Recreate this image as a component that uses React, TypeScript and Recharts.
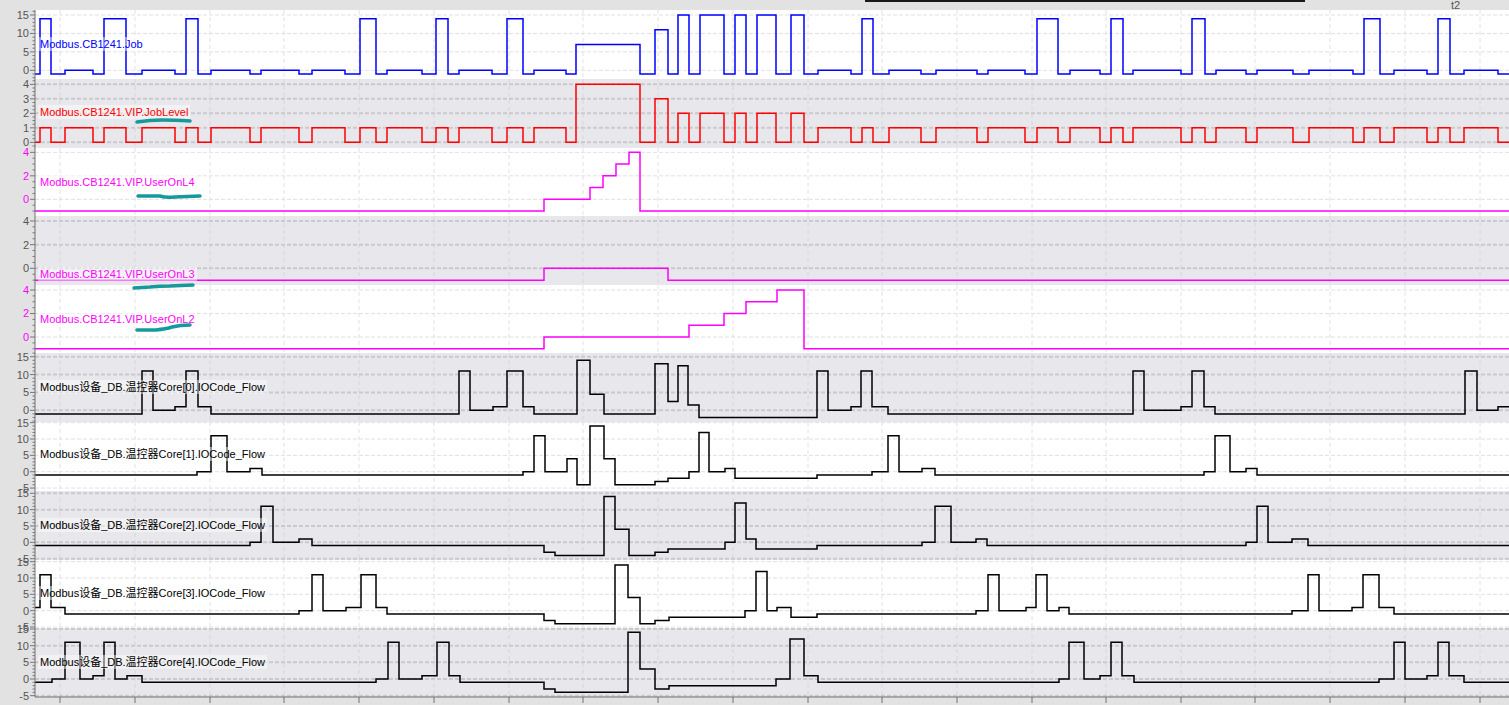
import React from "react";
import { LineChart, Line, XAxis, YAxis, CartesianGrid } from "recharts";

// time axis: one unit per screen pixel of the trace, 0 = left edge of the plot
const T_END = 1474;
const TIME_TICKS = [25, 100, 175, 249, 324, 399, 474, 548, 623, 698, 773, 847, 922, 997, 1071, 1146, 1220, 1295, 1370, 1445];

// Job and JobLevel change at the same moments
const JOB_T = [
  0, 5, 16, 30, 58, 69, 91, 107, 140, 151, 163, 176, 215, 226, 264, 277, 310, 325, 341, 352,
  387, 401, 413, 424, 457, 472, 488, 499, 531, 541, 605, 620, 633, 643, 654, 665, 689, 700, 711, 722,
  741, 756, 769, 783, 816, 827, 838, 854, 886, 901, 942, 953, 990, 1002, 1023, 1035, 1065, 1076, 1088, 1098,
  1146, 1157, 1170, 1181, 1211, 1222, 1258, 1274, 1318, 1329, 1345, 1359, 1392, 1403, 1415, 1429, 1463,
];
const JOB_VALUES = [
  -1, 14, -1, 0, -1, 14, -1, 0, -1, 14, -1, 0, -1, 0, -1, 0, -1, 14, -1, 0,
  -1, 14, -1, 0, -1, 14, -1, 0, -1, 7, -1, 11, -1, 15, -1, 15, -1, 15, -1, 15,
  -1, 15, -1, 0, -1, 14, -1, 0, -1, 0, -1, 0, -1, 14, -1, 0, -1, 14, -1, 0,
  -1, 14, -1, 0, -1, 0, -1, 0, -1, 14, -1, 0, -1, 14, -1, 0, -1,
];
const JOB_LEVEL_VALUES = [
  0, 1, 0, 1, 0, 1, 0, 1, 0, 1, 0, 1, 0, 1, 0, 1, 0, 1, 0, 1,
  0, 1, 0, 1, 0, 1, 0, 1, 0, 4, 0, 3, 0, 2, 0, 2, 0, 2, 0, 2,
  0, 2, 0, 1, 0, 1, 0, 1, 0, 1, 0, 1, 0, 1, 0, 1, 0, 1, 0, 1,
  0, 1, 0, 1, 0, 1, 0, 1, 0, 1, 0, 1, 0, 1, 0, 1, 0,
];

const L4_T = [0, 509, 555, 568, 581, 594, 605];
const L4_VALUES = [-1, 0, 1, 2, 3, 4, -1];
const L3_T = [0, 509, 633];
const L3_VALUES = [-1, 0, -1];
const L2_T = [0, 509, 654, 689, 711, 742, 769];
const L2_VALUES = [-1, 0, 1, 2, 3, 4, -1];

const CORE0_T = [0, 107, 118, 140, 151, 163, 176, 424, 435, 458, 472, 488, 499, 542, 555, 569, 620, 633, 643, 653, 664, 782, 793, 816, 826, 837, 853, 1098, 1109, 1146, 1157, 1169, 1180, 1430, 1442, 1463];
const CORE0_VALUES = [-1, 11, 0, 1, 11, 1, -1, 11, 0, 1, 11, 1, -1, 14, 4.5, -1, 13, 2.5, 12.5, 1.5, -2, 11, 0, 1, 11, 1, -1, 11, 0, 1, 11, 1, -1, 11, 0, 1];

const CORE1_T = [0, 162, 176, 192, 215, 227, 488, 499, 510, 532, 542, 555, 569, 580, 620, 633, 654, 664, 674, 690, 700, 782, 837, 853, 864, 887, 900, 1169, 1180, 1195, 1211, 1222];
const CORE1_VALUES = [-1, 0, 11, 0, 1, -1, 0, 11, 0, 4, -4, 14, 4, -4, -3, -2, 0, 12, 0, 1, -2, -1, 0, 11, 0, 1, -1, 0, 11, 0, 1, -1];

const CORE2_T = [0, 215, 226, 238, 264, 277, 509, 520, 569, 580, 594, 620, 633, 690, 700, 711, 721, 782, 887, 900, 916, 941, 952, 1211, 1222, 1233, 1257, 1273];
const CORE2_VALUES = [-1, 0, 11, 0, 1, -1, -3, -4, 14, 4, -4, -3, -2, 0, 12, 1, -2, -1, 0, 11, 0, 1, -1, 0, 11, 0, 1, -1];

const CORE3_T = [0, 5, 16, 30, 264, 277, 288, 311, 326, 341, 352, 509, 520, 580, 593, 605, 620, 634, 710, 721, 732, 742, 756, 782, 941, 953, 964, 991, 1001, 1012, 1024, 1034, 1257, 1273, 1284, 1317, 1328, 1344, 1359];
const CORE3_VALUES = [1, 11, 1, -1, 0, 11, 0, 1, 11, 1, -1, -3, -4, 14, 4, -4, -3, -2, 0, 12, 0, 1, -2, -1, 0, 11, 0, 1, 11, 0, 1, -1, 0, 11, 0, 1, 11, 1, -1];

const CORE4_T = [0, 17, 30, 45, 58, 69, 80, 92, 107, 341, 353, 364, 387, 402, 414, 425, 509, 520, 593, 605, 620, 634, 741, 755, 769, 783, 1024, 1034, 1049, 1065, 1076, 1087, 1099, 1344, 1359, 1370, 1392, 1403, 1414, 1429];
const CORE4_VALUES = [-1, 0, 11, 0, 1, 11, 0, 1, -1, 0, 11, 0, 1, 11, 1, -1, -3, -4, 14, 3, -3, -2, 0, 12, 1, -1, 0, 11, 0, 1, 11, 1, -1, 0, 11, 0, 1, 11, 1, -1];

const GRAY = "#e7e7ec";
const WHITE = "#ffffff";
const MAGENTA = "#ff00ff";

type Panel = {
  name: string;
  color: string;
  times: number[];
  values: number[];
  domain: [number, number];
  ticks: number[];
  minorStep: number;
  height: number;
  band: string;
  tickColor: string;
  labelY: number;
};

const PANELS: Panel[] = [
  { name: "Modbus.CB1241.Job", color: "#0000ff", times: JOB_T, values: JOB_VALUES, domain: [-2.36, 16.36], ticks: [0, 5, 10, 15], minorStep: 1, height: 69, band: WHITE, tickColor: "#555", labelY: 34 },
  { name: "Modbus.CB1241.VIP.JobLevel", color: "#ff0000", times: JOB_T, values: JOB_LEVEL_VALUES, domain: [-0.39, 4.37], ticks: [0, 1, 2, 3, 4], minorStep: 0.25, height: 69, band: GRAY, tickColor: "#555", labelY: 33 },
  { name: "Modbus.CB1241.VIP.UserOnL4", color: MAGENTA, times: L4_T, values: L4_VALUES, domain: [-1.42, 4.37], ticks: [0, 2, 4], minorStep: 0.5, height: 68, band: WHITE, tickColor: MAGENTA, labelY: 34 },
  { name: "Modbus.CB1241.VIP.UserOnL3", color: MAGENTA, times: L3_T, values: L3_VALUES, domain: [-1.41, 4.42], ticks: [0, 2, 4], minorStep: 0.5, height: 69, band: GRAY, tickColor: "#555", labelY: 58 },
  { name: "Modbus.CB1241.VIP.UserOnL2", color: MAGENTA, times: L2_T, values: L2_VALUES, domain: [-1.36, 4.43], ticks: [0, 2, 4], minorStep: 0.5, height: 68, band: WHITE, tickColor: MAGENTA, labelY: 34 },
  { name: "Modbus设备_DB.温控器Core[0].IOCode_Flow", color: "#000", times: CORE0_T, values: CORE0_VALUES, domain: [-3.27, 16.04], ticks: [0, 5, 10, 15], minorStep: 1, height: 69, band: GRAY, tickColor: "#555", labelY: 34 },
  { name: "Modbus设备_DB.温控器Core[1].IOCode_Flow", color: "#000", times: CORE1_T, values: CORE1_VALUES, domain: [-5.9, 15.2], ticks: [-5, 0, 5, 10, 15], minorStep: 1, height: 69, band: WHITE, tickColor: "#555", labelY: 32 },
  { name: "Modbus设备_DB.温控器Core[2].IOCode_Flow", color: "#000", times: CORE2_T, values: CORE2_VALUES, domain: [-5.4, 15.7], ticks: [-5, 0, 5, 10, 15], minorStep: 1, height: 69, band: GRAY, tickColor: "#555", labelY: 34 },
  { name: "Modbus设备_DB.温控器Core[3].IOCode_Flow", color: "#000", times: CORE3_T, values: CORE3_VALUES, domain: [-5.3, 15.5], ticks: [-5, 0, 5, 10, 15], minorStep: 1, height: 68, band: WHITE, tickColor: "#555", labelY: 33 },
  { name: "Modbus设备_DB.温控器Core[4].IOCode_Flow", color: "#000", times: CORE4_T, values: CORE4_VALUES, domain: [-5.4, 15.3], ticks: [-5, 0, 5, 10, 15], minorStep: 1, height: 69, band: GRAY, tickColor: "#555", labelY: 34 },
];

const FONT = "'Liberation Sans', Arial, 'Noto Sans CJK SC', sans-serif";
const TOP = 10;
const AXIS_H = 8;
const W = 1509;

function toSteps(times: number[], values: number[]) {
  const rows = times.map((t, i) => ({ t, v: values[i] }));
  rows.push({ t: T_END, v: values[values.length - 1] });
  return rows;
}

function allTicks(p: Panel) {
  const out: number[] = [];
  const start = Math.ceil(p.domain[0] / p.minorStep) * p.minorStep;
  for (let v = start; v <= p.domain[1]; v += p.minorStep) out.push(Math.round(v * 100) / 100);
  return out;
}

function AxisTick(props: any) {
  const { x, y, payload, major, color } = props;
  const isMajor = major.includes(payload.value);
  return (
    <g>
      <line x1={x - (isMajor ? 5 : 2.5)} x2={x} y1={y} y2={y} stroke="#777" strokeWidth={1} />
      {isMajor && (
        <text x={x - 6} y={y} dy="0.36em" textAnchor="end" fill={color} fontSize={11} fontFamily={FONT}>
          {payload.value}
        </text>
      )}
    </g>
  );
}

// bottom time axis: tick marks only, no labels
function TimeTick(props: any) {
  const { x, y } = props;
  return <line x1={x} x2={x} y1={y - 6} y2={y} stroke="#707070" strokeWidth={1} />;
}

function TracePanel({ p, last }: { p: Panel; last: boolean }) {
  const data = toSteps(p.times, p.values);
  const gray = p.band === GRAY;
  return (
    <LineChart width={W} height={p.height + (last ? AXIS_H : 0)} data={data} margin={{ top: 0, right: 0, bottom: 0, left: 0 }}>
      <CartesianGrid
        fill={p.band}
        fillOpacity={1}
        horizontal={false}
        verticalValues={TIME_TICKS}
        stroke={gray ? "#d6d6dc" : "#e2e2e2"}
        strokeDasharray="4 3"
      />
      <CartesianGrid
        vertical={false}
        horizontalValues={p.ticks}
        stroke={gray ? "#c9c9ce" : "#e0e0e0"}
        strokeWidth={gray ? 2 : 1}
        strokeDasharray="4 2"
      />
      <XAxis
        dataKey="t"
        type="number"
        domain={[0, T_END]}
        ticks={TIME_TICKS}
        interval={0}
        allowDataOverflow
        hide={!last}
        height={AXIS_H}
        tick={<TimeTick />}
        tickLine={false}
        tickSize={6}
        tickMargin={0}
        stroke="#707070"
      />
      <YAxis
        type="number"
        domain={p.domain}
        allowDataOverflow
        ticks={allTicks(p)}
        interval={0}
        width={35}
        tickSize={0}
        tickMargin={0}
        tickLine={false}
        stroke="#707070"
        tick={<AxisTick major={p.ticks} color={p.tickColor} />}
      />
      <Line
        type="stepAfter"
        dataKey="v"
        stroke={p.color}
        strokeWidth={1.5}
        dot={false}
        activeDot={false}
        isAnimationActive={false}
      />
    </LineChart>
  );
}

// hand-drawn marker strokes on the screenshot
const SCRIBBLES = [
  "M137 122 Q150 120 162 120 T190 121",
  "M138 196 L160 196 Q166 198 175 197 L200 196",
  "M134 288 L150 287 Q160 286 170 286 L193 285",
  "M137 330 L156 330 Q166 329 172 327 Q180 325 190 325",
];

export default function App() {
  const tops: number[] = [];
  let acc = TOP;
  PANELS.forEach((p) => {
    tops.push(acc);
    acc += p.height;
  });

  return (
    <div style={{ position: "absolute", left: 0, top: 0, width: W, height: 705, background: "#e2e2e2", overflow: "hidden", fontFamily: FONT }}>
      <style>{`.recharts-surface{overflow:visible}`}</style>
      <div style={{ position: "absolute", left: 865, top: 0, width: 440, height: 2, background: "#1a1a1a" }} />
      <div style={{ position: "absolute", left: 1451, top: -1, fontSize: 11, color: "#555" }}>t2</div>
      {PANELS.map((p, i) => (
        <div key={p.name} style={{ position: "absolute", left: 0, top: tops[i] }}>
          <TracePanel p={p} last={i === PANELS.length - 1} />
        </div>
      ))}
      {PANELS.map((p, i) => (
        <div
          key={p.name + "-label"}
          style={{
            position: "absolute",
            left: 38,
            top: tops[i] + p.labelY - 7,
            height: 14,
            lineHeight: "14px",
            padding: "0 2px",
            fontSize: 11,
            color: p.color,
            background: "rgba(255,255,255,0.45)",
            whiteSpace: "nowrap",
          }}
        >
          {p.name}
        </div>
      ))}
      <svg width={W} height={705} style={{ position: "absolute", left: 0, top: 0, pointerEvents: "none" }}>
        {SCRIBBLES.map((d, i) => (
          <path key={i} d={d} fill="none" stroke="#16999a" strokeWidth={3.5} strokeLinecap="round" />
        ))}
      </svg>
    </div>
  );
}
